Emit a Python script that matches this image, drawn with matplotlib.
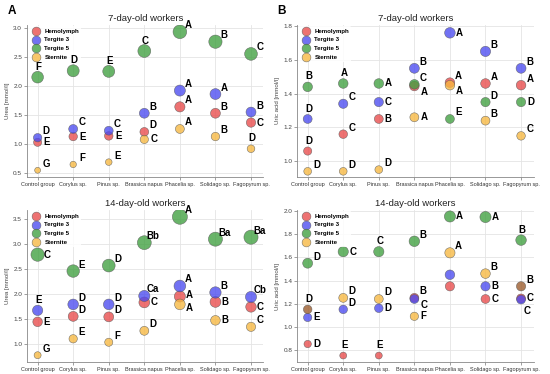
import matplotlib
matplotlib.use('Agg')
import matplotlib.pyplot as plt

plt.rcParams['font.family'] = ['Liberation Sans', 'DejaVu Sans']

# Data
plants = ['Control group', 'Corylus sp.', 'Pinus sp.', 'Brassica napus',
          'Phacelia sp.', 'Solidago sp.', 'Fagopyrum sp.']
series = ['Hemolymph', 'Tergite 3', 'Tergite 5', 'Sternite']

# 7-day-old, urea [mmol/l]
urea7_hemo = [1.03, 1.13, 1.14, 1.21, 1.64, 1.53, 1.37]
urea7_t3 = [1.11, 1.26, 1.23, 1.53, 1.92, 1.86, 1.55]
urea7_t5 = [2.15, 2.26, 2.25, 2.60, 2.93, 2.76, 2.55]
urea7_st = [0.55, 0.65, 0.69, 1.08, 1.26, 1.13, 0.92]
urea7_let_hemo = ['E', 'E', 'E', 'D', 'A', 'B', 'C']
urea7_let_t3 = ['D', 'C', 'C', 'B', 'A', 'A', 'B']
urea7_let_t5 = ['F', 'D', 'E', 'C', 'A', 'B', 'C']
urea7_let_st = ['G', 'F', 'E', 'C', 'A', 'B', 'D']

# 7-day-old, uric acid [mmol/l]
uric7_hemo = [1.06, 1.16, 1.25, 1.445, 1.465, 1.46, 1.45]
uric7_t3 = [1.25, 1.34, 1.35, 1.55, 1.76, 1.65, 1.55]
uric7_t5 = [1.44, 1.46, 1.46, 1.455, 1.25, 1.35, 1.35]
uric7_st = [0.94, 0.94, 0.95, 1.26, 1.45, 1.24, 1.15]
uric7_let_hemo = ['D', 'C', 'B', 'A', 'A', 'A', 'A']
uric7_let_t3 = ['D', 'C', 'C', 'B', 'A', 'B', 'B']
uric7_let_t5 = ['B', 'A', 'A', 'C', 'E', 'D', 'D']
uric7_let_st = ['D', 'D', 'D', 'A', 'A', 'B', 'C']

# 14-day-old, urea [mmol/l]
urea14_hemo = [1.44, 1.55, 1.54, 1.83, 1.95, 1.84, 1.74]
urea14_t3 = [1.67, 1.79, 1.79, 1.96, 2.16, 2.03, 1.94]
urea14_t5 = [2.79, 2.46, 2.57, 3.03, 3.55, 3.10, 3.14]
urea14_st = [0.77, 1.10, 1.03, 1.26, 1.79, 1.47, 1.34]
urea14_let_hemo = ['E', 'D', 'D', 'C', 'A', 'B', 'C']
urea14_let_t3 = ['E', 'D', 'D', 'Ca', 'A', 'B', 'Cb']
urea14_let_t5 = ['C', 'E', 'D', 'Bb', 'A', 'Ba', 'Ba']
urea14_let_st = ['G', 'E', 'F', 'D', 'A', 'B', 'C']

# 14-day-old, uric acid [mmol/l]
uric14_hemo = [0.85, 0.75, 0.75, 1.25, 1.35, 1.24, 1.245]
uric14_t3 = [1.08, 1.15, 1.16, 1.24, 1.45, 1.35, 1.235]
uric14_t5 = [1.55, 1.65, 1.65, 1.74, 1.955, 1.95, 1.75]
uric14_st = [1.15, 1.25, 1.24, 1.09, 1.64, 1.46, 1.35]
uric14_let_hemo = ['D', 'E', 'E', 'B', '', 'C', 'C']
uric14_let_t3 = ['E', 'D', 'D', 'C', '', 'B', 'C']
uric14_let_t5 = ['D', 'C', 'C', 'B', 'A', 'A', 'B']
uric14_let_st = ['D', 'D', 'D', 'F', 'A', 'B', 'B']

colors = ['#e84a4a', '#4a4af0', '#3f9f3f', '#f7b840']
brown = '#9a5a2a'

# letter placement codes -> offset in points
offs = {'u': (0.7, 7.5), 'ur': (6.3, 4.7), 'r': (6.8, 0.0),
        'r+': (6.8, 1.2), 'r-': (6.8, -2.6),
        'd': (6.8, -4.0), 'dd': (4.5, -8.3)}

panels = [
    dict(pos=[0.049, 0.527, 0.43, 0.406], title='7-day-old workers',
         ylabel='Urea [mmol/l]', ylim=(0.436, 3.046), yt=[0.5, 1.0, 1.5, 2.0, 2.5, 3.0],
         vals=[urea7_hemo, urea7_t3, urea7_t5, urea7_st],
         lets=[urea7_let_hemo, urea7_let_t3, urea7_let_t5, urea7_let_st],
         codes=[['r', 'r', 'r', 'ur', 'ur', 'ur', 'r'],
                ['ur'] * 7,
                ['u', 'u', 'u', 'u', 'ur', 'ur', 'ur'],
                ['ur', 'ur', 'ur', 'r', 'ur', 'ur', 'u']],
         tag='A'),
    dict(pos=[0.540, 0.527, 0.43, 0.406], title='7-day-old workers',
         ylabel='Uric acid [mmol/l]', ylim=(0.907, 1.806), yt=[1.0, 1.2, 1.4, 1.6, 1.8],
         vals=[uric7_hemo, uric7_t3, uric7_t5, uric7_st],
         lets=[uric7_let_hemo, uric7_let_t3, uric7_let_t5, uric7_let_st],
         codes=[['u', 'ur', 'r', 'd', 'ur', 'ur', 'ur'],
                ['u', 'ur', 'r', 'ur', 'r', 'ur', 'ur'],
                ['u', 'u', 'r', 'ur', 'ur', 'ur', 'r'],
                ['ur', 'ur', 'ur', 'r', 'd', 'ur', 'ur']],
         tag='B'),
    dict(pos=[0.049, 0.032, 0.43, 0.4065], title='14-day-old workers',
         ylabel='Urea [mmol/l]', ylim=(0.633, 3.686), yt=[1.0, 1.5, 2.0, 2.5, 3.0, 3.5],
         vals=[urea14_hemo, urea14_t3, urea14_t5, urea14_st],
         lets=[urea14_let_hemo, urea14_let_t3, urea14_let_t5, urea14_let_st],
         codes=[['r', 'ur', 'ur', 'r', 'r+', 'r', 'r'],
                ['u', 'ur', 'ur', 'ur', 'ur', 'ur', 'ur'],
                ['r', 'ur', 'ur', 'ur', 'ur', 'ur', 'ur'],
                ['ur', 'ur', 'ur', 'ur', 'r-', 'r', 'ur']],
         tag=None),
    dict(pos=[0.540, 0.032, 0.43, 0.4065], title='14-day-old workers',
         ylabel='Uric acid [mmol/l]', ylim=(0.694, 2.011), yt=[0.8, 1.0, 1.2, 1.4, 1.6, 1.8, 2.0],
         vals=[uric14_hemo, uric14_t3, uric14_t5, uric14_st],
         lets=[uric14_let_hemo, uric14_let_t3, uric14_let_t5, uric14_let_st],
         codes=[['r', 'u', 'u', 'ur', 'r', 'r', 'r'],
                ['r', 'ur', 'r', 'd', 'r', 'r', 'dd'],
                ['ur', 'r', 'u', 'ur', 'r', 'r', 'u'],
                ['u', 'ur', 'ur', 'r', 'ur', 'ur', 'ur']],
         tag=None),
]

fig = plt.figure(figsize=(5.5, 3.74), dpi=100)
fig.patch.set_facecolor('white')

x = list(range(len(plants)))
for k, p in enumerate(panels):
    ax = fig.add_axes(p['pos'])
    ax.set_xlim(-0.3, 6.35)
    ax.set_ylim(*p['ylim'])
    ax.grid(True, color='#e4e4e4', lw=0.6)
    ax.set_axisbelow(True)
    for i, (v, lets, cds) in enumerate(zip(p['vals'], p['lets'], p['codes'])):
        fc = [colors[i]] * len(v)
        if k == 3 and i == 3:
            # two sternite markers appear brown in the source figure
            fc[0] = brown
            fc[6] = brown
        ax.scatter(x, v, s=[33 * a for a in v], c=fc, alpha=0.78,
                   edgecolors='#555555', linewidths=0.4, zorder=3)
        ax.scatter([], [], s=40, c=colors[i], alpha=0.78, edgecolors='#555555',
                   linewidths=0.4, label=series[i])
        for xi, yi, t, cd in zip(x, v, lets, cds):
            if t:
                ax.annotate(t, (xi, yi), xytext=offs[cd], textcoords='offset points',
                            ha='center', va='center', fontsize=7, fontweight='bold',
                            color='black', zorder=6)
    ax.set_xticks(x)
    ax.set_xticklabels(plants, fontsize=4.0, color='#333333')
    ax.set_yticks(p['yt'])
    ax.set_yticklabels(['%.1f' % t for t in p['yt']], fontsize=4.6, color='#444444')
    ax.tick_params(length=2, width=0.5, color='#777777', pad=1.5)
    ax.set_ylabel(p['ylabel'], fontsize=4.4, color='#444444', labelpad=2)
    ax.set_title(p['title'], fontsize=6.8, color='#222222', pad=3)
    for s in ['top', 'right']:
        ax.spines[s].set_visible(False)
    for s in ['left', 'bottom']:
        ax.spines[s].set_color('#888888')
        ax.spines[s].set_linewidth(0.6)
    leg = ax.legend(loc='upper left', prop={'weight': 'bold', 'size': 4.4},
                    handletextpad=0.3, labelspacing=0.55, borderpad=0.35,
                    frameon=True, framealpha=0.85, edgecolor='none',
                    borderaxespad=0.2, scatterpoints=1)
    leg.set_zorder(4)
    if p['tag']:
        fig.text(p['pos'][0] - 0.035, 0.97, p['tag'], fontsize=8.5, fontweight='bold',
                 ha='left', va='center')

fig.savefig('out.png', dpi=100, facecolor='white')
